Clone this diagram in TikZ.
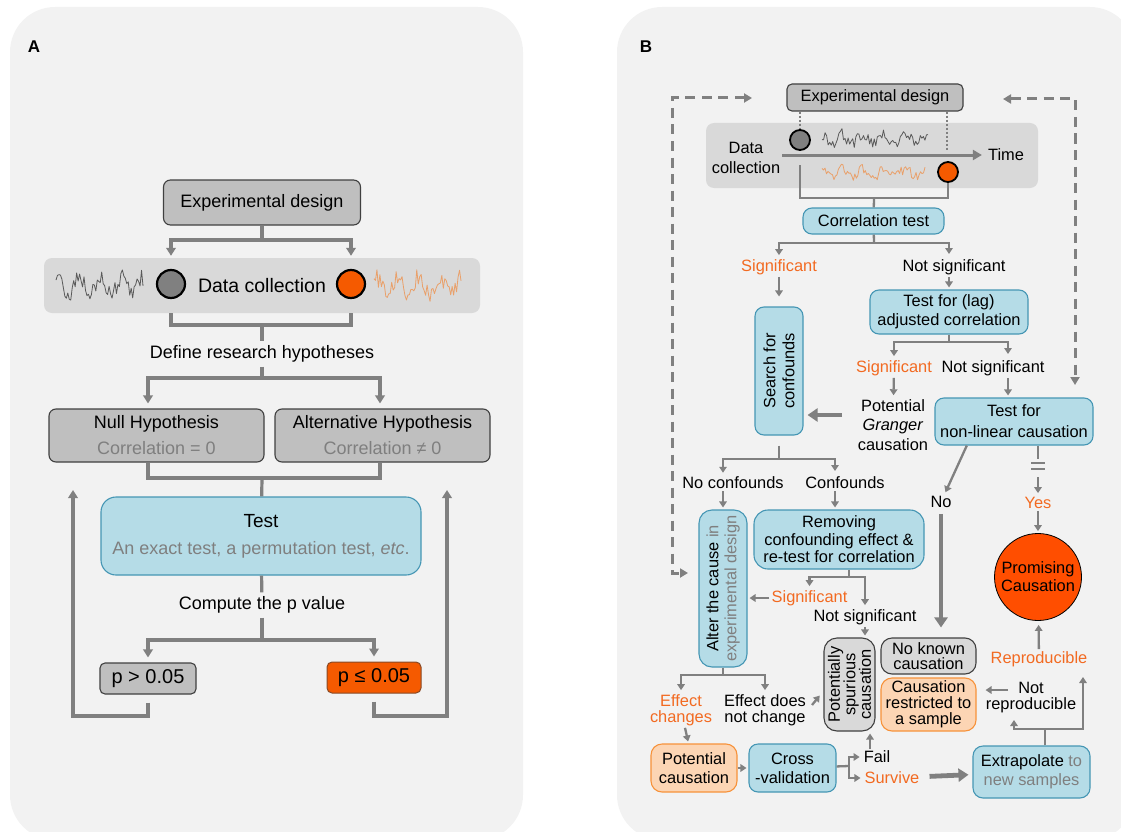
\documentclass[tikz,border=0pt]{standalone}
\usepackage{fontspec}
\setmainfont{Liberation Sans}
\usepackage{xcolor}
\usepackage{tikz}
\usetikzlibrary{positioning}
\usetikzlibrary{arrows.meta}

\definecolor{panelbg}{HTML}{F2F2F2}
\definecolor{bandgray}{HTML}{D9D9D9}
\definecolor{boxgray}{HTML}{BFBFBF}
\definecolor{boxline}{HTML}{404040}
\definecolor{bluefill}{HTML}{B5DCE7}
\definecolor{blueline}{HTML}{4596B4}
\definecolor{peachfill}{HTML}{FCD5B4}
\definecolor{peachline}{HTML}{F7923A}
\definecolor{hotorange}{HTML}{F55A00}
\definecolor{redorange}{HTML}{FF4E00}
\definecolor{sigorange}{HTML}{F26A21}
\definecolor{linegray}{HTML}{808080}
\definecolor{textgray}{HTML}{7F7F7F}
\definecolor{dotgray}{HTML}{808080}
\definecolor{seriesorange}{HTML}{E9A06A}
\definecolor{seriesgray}{HTML}{595959}

\tikzset{
    panel/.style={fill=panelbg, rounded corners=45pt},
    band/.style={fill=bandgray, rounded corners=8pt, inner sep=0pt},
    graybox/.style={draw=boxline, fill=boxgray, rounded corners=7pt, line width=1.1pt, align=center, inner sep=2pt},
    lightbox/.style={draw=boxline, fill=bandgray, rounded corners=11pt, line width=1.1pt, align=center, inner sep=2pt},
    bluebox/.style={draw=blueline, fill=bluefill, rounded corners=9pt, line width=1.1pt, align=center, inner sep=2pt},
    peachbox/.style={draw=peachline, fill=peachfill, rounded corners=11pt, line width=1.1pt, align=center, inner sep=2pt},
    hotbox/.style={draw=boxline!60!hotorange, fill=hotorange, rounded corners=5pt, line width=1pt, inner sep=2pt},
    dot/.style={circle, draw=black, inner sep=0pt},
    fA/.style={font=\fontsize{18}{26}\selectfont},
    fB/.style={font=\fontsize{16.4}{19}\selectfont},
    lbl/.style={align=center, inner sep=2pt},
    sig/.style={lbl, text=sigorange},
    conn/.style={draw=linegray, line width=3.2pt},
    arrowA/.style={conn, -{Triangle[length=8pt,width=9.5pt]}, shorten >=2pt},
    connB/.style={draw=linegray, line width=2.3pt},
    arrowB/.style={connB, -{Triangle[length=6pt,width=7.5pt]}, shorten >=2pt},
    bigarrow/.style={draw=linegray, line width=4.8pt, -{Triangle[length=10pt,width=13pt]}},
    dashloop/.style={draw=linegray, line width=3pt, dash pattern=on 10pt off 6.5pt, {Triangle[length=8pt,width=9pt]}-{Triangle[length=8pt,width=9pt]}},
    series/.style={line width=0.8pt, line join=round}
}

\begin{document}
\begin{tikzpicture}[x=1pt, y=-1pt]
\useasboundingbox (0,0) rectangle (1121,832);

% panels
\fill [panel] (10,7) rectangle (523,840);
\fill [panel] (617,7) rectangle (1135,840);
\node [font=\fontsize{17}{20}\selectfont\bfseries] (labA) at (34,47) {A};
\node [font=\fontsize{17}{20}\selectfont\bfseries] (labB) at (646,47) {B};

% ---------------- panel A
\begin{scope}[fA]
\node [graybox, minimum width=197pt, minimum height=45pt]                    (edA)   at (262,202.5) {Experimental design};
\node [band, minimum width=436pt, minimum height=55pt, font=\fontsize{19.5}{22}\selectfont] (dcA) at (262,285.5) {Data collection};
\node [dot, fill=dotgray, minimum size=28pt, line width=2.2pt]                (cgA)   at (171,284)   {};
\node [dot, fill=hotorange, minimum size=28pt, line width=2.2pt]              (coA)   at (351,284)   {};
\pgfmathsetseed{11}
\draw [series, seriesgray]   plot [domain=56:143, samples=60]  (\x, {286 + 8*sin(17*\x) + 9*rand});
\draw [series, seriesorange] plot [domain=374:461, samples=60] (\x, {286 + 8*sin(17*\x) + 9*rand});
\node [lbl, inner sep=4pt]                                                    (defA)  at (262,354)   {Define research hypotheses};
\node [graybox, minimum width=215pt, minimum height=53pt]                    (nullA) at (156.5,435.5) {Null Hypothesis\\\textcolor{textgray}{Correlation = 0}};
\node [graybox, minimum width=215pt, minimum height=53pt]                    (altA)  at (382.5,435.5) {Alternative Hypothesis\\\textcolor{textgray}{Correlation ≠ 0}};
\node [bluebox, rounded corners=15pt, minimum width=320pt, minimum height=78pt, font=\fontsize{18}{27}\selectfont] (testA) at (261,536) {{\fontsize{19}{27}\selectfont Test}\\\textcolor{textgray}{An exact test, a permutation test, \textit{etc}.}};
\node [lbl, inner sep=4pt]                                                    (compA) at (262,605)   {Compute the p value};
\node [graybox, rounded corners=5pt, minimum width=96pt, minimum height=31pt, font=\fontsize{20}{22}\selectfont] (pgtA) at (148,678.5) {p > 0.05};
\node [hotbox, minimum width=94pt, minimum height=31pt, font=\fontsize{20}{22}\selectfont]                     (pleA) at (374,677.5) {p ≤ 0.05};

\coordinate (jA1) at (262,240);
\coordinate (jA2) at (262,325);
\coordinate (jA3) at (262,378);
\coordinate (jA4) at (262,478);
\coordinate (jA5) at (262,640);
\coordinate (xL)  at (148,0);
\coordinate (xR)  at (380,0);
\coordinate (bL)  at (73,716);
\coordinate (bR)  at (447,716);
\coordinate (fbL) at (73,488);
\coordinate (fbR) at (447,488);

\draw [conn]   (edA) -- (jA1);
\draw [arrowA] (jA1) -| (cgA |- dcA.north);
\draw [arrowA] (jA1) -| (coA |- dcA.north);
\draw [conn]   (cgA |- dcA.south) |- (jA2) -| (coA |- dcA.south);
\draw [conn]   (jA2) -- (defA);
\draw [conn]   (defA) -- (jA3);
\draw [arrowA, shorten >=5pt] (jA3) -| (xL |- nullA.north);
\draw [arrowA, shorten >=5pt] (jA3) -| (xR |- altA.north);
\draw [conn]   (xL |- nullA.south) |- (jA4) -| (xR |- altA.south);
\draw [conn]   (jA4) -- (testA);
\draw [conn]   (testA) -- (compA);
\draw [conn]   (compA) -- (jA5);
\draw [arrowA, shorten >=5pt] (jA5) -| (pgtA);
\draw [arrowA, shorten >=5pt] (jA5) -| (pleA);
\draw [arrowA, shorten <=8pt] (pgtA) |- (bL) -- (fbL);
\draw [arrowA, shorten <=8pt] (pleA) |- (bR) -- (fbR);
\end{scope}

% ---------------- panel B
\begin{scope}[fB]
\node [band, minimum width=332pt, minimum height=65pt]                       (dcB)   at (872,155.5) {};
\node [graybox, rounded corners=5pt, minimum width=176pt, minimum height=27pt] (edB) at (875,97.5)  {Experimental design};
\node [lbl, font=\fontsize{16.4}{20}\selectfont]                             (dctB)  at (746,158)   {Data\\collection};
\node [lbl]                                                                  (timeB) at (1006,155)  {Time};
\node [dot, fill=dotgray, minimum size=20pt, line width=1.8pt]               (cgB)   at (800,140)   {};
\node [dot, fill=hotorange, minimum size=20pt, line width=1.8pt]             (coB)   at (948,172)   {};
\draw [series, seriesgray]   plot [domain=822:928, samples=70] (\x, {139 + 5*sin(17*\x) + 6*rand});
\draw [series, seriesorange] plot [domain=822:925, samples=70] (\x, {173 + 4*sin(17*\x) + 5*rand});
\draw [draw=linegray, line width=3pt, -{Triangle[length=9pt,width=10pt]}, shorten >=4pt] (dctB.east |- timeB) -- (timeB);

\coordinate (dotEnd) at (947,150);
\draw [draw=linegray, line width=1.8pt, dash pattern=on 2pt off 2pt] (edB.south -| cgB) -- (cgB);
\draw [draw=linegray, line width=1.8pt, dash pattern=on 2pt off 2pt] (edB.south -| dotEnd) -- (dotEnd);

\node [bluebox, minimum width=141pt, minimum height=26pt]                    (corrB)  at (873.5,221) {Correlation test};
\node [sig]                                                                  (sig1B)  at (779,267)   {Significant};
\node [lbl]                                                                  (nsig1B) at (954,267)   {Not significant};
\node [bluebox, rotate=90, minimum width=128pt, minimum height=48pt, font=\fontsize{16.4}{19}\selectfont] (searchB) at (779,371) {Search for\\confounds};
\node [bluebox, minimum width=158pt, minimum height=44pt]                    (lagB)   at (949,312)   {Test for (lag)\\adjusted correlation};
\node [sig]                                                                  (sig2B)  at (894,368)   {Significant};
\node [lbl]                                                                  (nsig2B) at (993,368)   {Not significant};
\node [lbl, font=\fontsize{16.4}{19.5}\selectfont]                           (grangerB) at (893,425) {Potential\\\textit{Granger}\\causation};
\node [bluebox, minimum width=158pt, minimum height=47pt, font=\fontsize{16.4}{21}\selectfont] (nlB) at (1014,421.5) {Test for\\non-linear causation};
\node [lbl]                                                                  (noconfB) at (733,483)  {No confounds};
\node [lbl]                                                                  (confB)  at (845,483)   {Confounds};
\node [bluebox, rotate=90, rounded corners=13pt, minimum width=157pt, minimum height=48pt, font=\fontsize{16.4}{18}\selectfont] (alterB) at (723,588.5) {Alter the cause \textcolor{textgray}{in}\\\textcolor{textgray}{experimental design}};
\node [bluebox, rounded corners=14pt, minimum width=170pt, minimum height=59pt, font=\fontsize{16.4}{17.5}\selectfont] (remB) at (839,539.5) {Removing\\confounding effect \&\\re-test for correlation};
\node [sig]                                                                  (sig3B)  at (809.5,598) {Significant};
\node [lbl]                                                                  (nsig3B) at (865,617)   {Not significant};
\node [lbl]                                                                  (noB)    at (941,502)   {No};
\node [sig]                                                                  (yesB)   at (1038,503)  {Yes};
\node [circle, draw=black, line width=0.8pt, fill=redorange, minimum size=87pt, inner sep=0pt, align=center, font=\fontsize{16.4}{18}\selectfont] (promB) at (1038,577) {Promising\\Causation};
\node [sig]                                                                  (reproB) at (1039,659)  {Reproducible};
\node [lightbox, rotate=90, rounded corners=13pt, minimum width=93pt, minimum height=51pt, font=\fontsize{16.4}{15.5}\selectfont] (spurB) at (849.5,684.5) {Potentially\\spurious\\causation};
\node [lightbox, minimum width=95pt, minimum height=36pt, font=\fontsize{16.4}{15}\selectfont] (nkB) at (928.5,656) {No known\\causation};
\node [peachbox, minimum width=95pt, minimum height=53pt, font=\fontsize{16.4}{16}\selectfont] (crsB) at (928.5,704.5) {Causation\\restricted to\\a sample};
\node [sig, font=\fontsize{16.4}{16}\selectfont]                             (effchB) at (681,710)   {Effect\\changes};
\node [lbl, font=\fontsize{16.4}{16}\selectfont]                             (effnoB) at (765,710)   {Effect does\\not change};
\node [peachbox, minimum width=86pt, minimum height=48pt]                    (potB)   at (694,768)   {Potential\\causation};
\node [bluebox, minimum width=87pt, minimum height=48pt]                     (cvB)    at (792.5,768) {Cross\\-validation};
\node [lbl]                                                                  (failB)  at (877,757)   {Fail};
\node [sig]                                                                  (survB)  at (892,778)   {Survive};
\node [bluebox, rounded corners=10pt, minimum width=117pt, minimum height=52pt] (exB) at (1031.5,772) {Extrapolate \textcolor{textgray}{to}\\\textcolor{textgray}{new samples}};
\node [lbl, font=\fontsize{16.4}{16}\selectfont]                             (notrepB) at (1031,698) {Not\\reproducible};

% loops back to the design
\coordinate (dlA) at (752,98);
\coordinate (dlB) at (688,573);
\coordinate (drA) at (1003,99);
\coordinate (drB) at (1075,385);
\draw [dashloop] (dlA) -- (672,98) -- (672,573) -- (dlB);
\draw [dashloop] (drA) -- (1075,99) -- (drB);

\coordinate (jB1) at (874,198);
\coordinate (bkL) at (800,165);
\coordinate (jB2) at (874,243);
\coordinate (a2)  at (949,256);
\coordinate (jB3) at (949,342);
\coordinate (a4)  at (1008,356);
\coordinate (jB4) at (779,459);
\coordinate (a6)  at (835,473);
\coordinate (jB5) at (849,577);
\coordinate (jB6) at (723,675);
\coordinate (g1)  at (842,415);
\coordinate (eqA) at (1038,459);
\coordinate (eqB) at (1038,477);
\coordinate (sp1) at (812,705);
\coordinate (sp2) at (821,694);
\coordinate (fk)  at (849,766);
\coordinate (fx)  at (870,0);
\coordinate (jB7) at (1045,729);
\coordinate (nrp) at (1014,718);
\coordinate (rp)  at (1083,675);
\coordinate (nr1) at (1008,690);

\draw [connB]  (bkL) |- (jB1) -| (coB);
\draw [connB]  (jB1) -- (corrB);
\draw [connB]  (corrB) -- (jB2);
\draw [arrowB] (jB2) -| (sig1B);
\draw [arrowB] (jB2) -| (a2);
\draw [arrowB, shorten >=10pt] (sig1B) -- (searchB.east);
\draw [arrowB] (lagB |- nsig1B.south) -- (lagB);
\draw [connB]  (lagB) -- (jB3);
\draw [arrowB] (jB3) -| (sig2B);
\draw [arrowB] (jB3) -| (a4);
\draw [arrowB] (sig2B) -- (grangerB);
\draw [arrowB] (nsig2B.south -| a4) -- (a4 |- nlB.north);
\draw [bigarrow, shorten >=4pt] (g1) -- (g1 -| searchB.south);
\draw [connB, shorten <=10pt] (searchB.west) -- (jB4);
\draw [arrowB] (jB4) -| (noconfB.north -| alterB.east);
\draw [arrowB] (jB4) -| (a6);
\draw [arrowB] (noconfB.south -| alterB.east) -- (alterB.east);
\draw [arrowB] (confB.south -| a6) -- (a6 |- remB.north);
\draw [connB]  (remB.south -| jB5) -- (jB5);
\draw [arrowB] (jB5) -| (sig3B);
\draw [arrowB] (jB5) -| (nsig3B);
\draw [arrowB] (sig3B) -- (sig3B -| alterB.south);
\draw [arrowB] (nsig3B) -- (nsig3B |- spurB.east);
\draw [arrowB] (nlB.207) -- (noB);
\draw [bigarrow, shorten <=4pt, shorten >=10pt] (noB) -- (noB |- nkB.north);
\draw [connB]  (nlB.south -| eqA) -- (eqA);
\draw [connB, line width=1.8pt] (1031,463) -- (1045,463) (1031,469) -- (1045,469);
\draw [arrowB] (eqB) -- (yesB);
\draw [arrowB] (yesB) -- (promB);
\draw [arrowB, shorten >=4pt] (reproB) -- (promB);
\draw [connB]  (alterB.west) -- (jB6);
\draw [arrowB] (jB6) -| (effchB);
\draw [arrowB] (jB6) -| (effnoB);
\draw [arrowB] (sp1) -- (sp2);
\draw [arrowB] (effchB) -- (potB);
\draw [arrowB] (potB) -- (cvB);
\draw [connB]  (cvB) -- (fk);
\draw [arrowB] (fk) |- (failB);
\draw [arrowB] (fk) |- (survB);
\draw [arrowB] (failB.north -| fx) -- (fx |- spurB.west);
\draw [bigarrow, shorten <=8pt, shorten >=4pt] (survB) -- (exB);
\draw [connB]  (exB.north -| jB7) -- (jB7);
\draw [arrowB] (jB7) -| (nrp);
\draw [arrowB] (jB7) -| (rp);
\draw [arrowB, shorten >=9pt] (nr1) -- (nr1 -| crsB.east);
\end{scope}

\end{tikzpicture}
\end{document}
